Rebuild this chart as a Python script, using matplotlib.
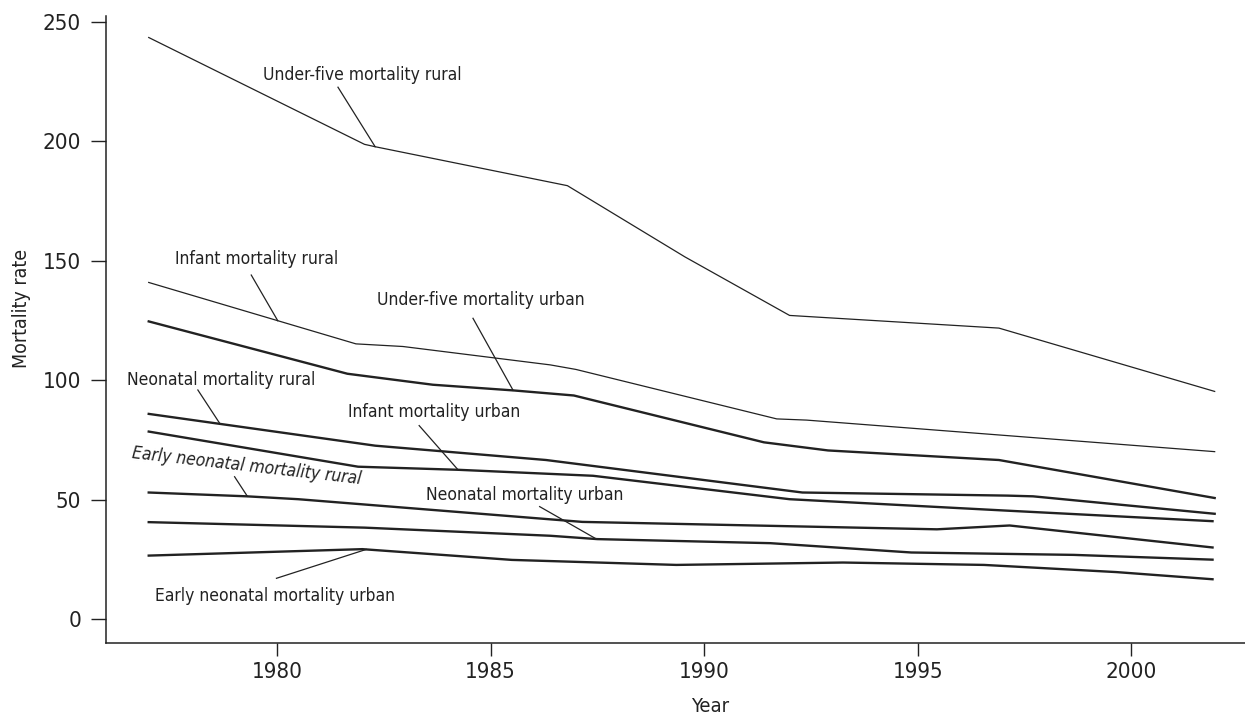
import numpy as np
import matplotlib
matplotlib.use('Agg')
import matplotlib.pyplot as plt
from matplotlib import font_manager as fm

# pick a narrow sans face if one is installed
narrow = None
for f in fm.fontManager.ttflist:
    if 'Narrow' in f.name or 'Condensed' in f.name or f.stretch == 'condensed':
        if f.style == 'normal' and f.weight in (400, 'normal', 'regular'):
            narrow = f
            break
if narrow is not None:
    plt.rcParams['font.family'] = [narrow.name, 'DejaVu Sans']
    plt.rcParams['font.stretch'] = narrow.stretch
else:
    plt.rcParams['font.family'] = ['Liberation Sans', 'DejaVu Sans']

# Mortality rates (per 1000) by year, rural and urban
years_u5_rural = [1977.0, 1982.05, 1982.3, 1986.8, 1989.55, 1992.0, 1996.9, 2001.95]
u5_rural = [243.5, 198.8, 197.8, 181.5, 151.7, 127.2, 121.9, 95.4]

years_inf_rural = [1977.0, 1981.85, 1982.95, 1986.4, 1987.0, 1991.7, 1992.4, 2001.95]
inf_rural = [141.0, 115.3, 114.2, 106.5, 104.6, 83.9, 83.4, 70.2]

years_u5_urban = [1977.0, 1981.65, 1983.65, 1985.55, 1986.95, 1991.4, 1992.9, 1996.9, 2001.95]
u5_urban = [124.7, 102.8, 98.2, 95.8, 93.7, 74.1, 70.7, 66.7, 50.8]

years_neo_rural = [1977.0, 1982.3, 1986.3, 1992.3, 1997.1, 1997.7, 2001.95]
neo_rural = [86.0, 72.7, 66.7, 53.1, 51.8, 51.5, 44.2]

years_inf_urban = [1977.0, 1981.9, 1984.25, 1987.4, 1992.0, 1997.1, 2001.9]
inf_urban = [78.6, 63.9, 62.6, 60.1, 50.3, 45.5, 41.1]

years_eneo_rural = [1977.0, 1979.3, 1980.5, 1987.15, 1995.45, 1997.15, 2001.9]
eneo_rural = [53.1, 51.5, 50.3, 40.8, 37.7, 39.3, 30.1]

years_neo_urban = [1977.0, 1982.05, 1986.4, 1987.5, 1991.55, 1994.85, 1998.65, 2001.9]
neo_urban = [40.7, 38.4, 35.0, 33.6, 31.9, 28.0, 27.0, 25.0]

years_eneo_urban = [1977.0, 1982.0, 1985.5, 1989.35, 1993.25, 1996.55, 1999.65, 2001.9]
eneo_urban = [26.7, 29.4, 24.9, 22.8, 23.8, 22.8, 19.8, 16.8]

names = ['Under-five mortality rural', 'Infant mortality rural',
         'Under-five mortality urban', 'Neonatal mortality rural',
         'Infant mortality urban', 'Early neonatal mortality rural',
         'Neonatal mortality urban', 'Early neonatal mortality urban']
series = [(years_u5_rural, u5_rural), (years_inf_rural, inf_rural),
          (years_u5_urban, u5_urban), (years_neo_rural, neo_rural),
          (years_inf_urban, inf_urban), (years_eneo_rural, eneo_rural),
          (years_neo_urban, neo_urban), (years_eneo_urban, eneo_urban)]
widths = [0.9, 0.9, 1.7, 1.7, 1.7, 1.7, 1.7, 1.7]

# label placement: text centre, start of leader, year where leader meets line
label_xy = [(1982.01, 228.0), (1979.52, 151.0), (1984.77, 133.5), (1978.70, 100.0),
            (1983.67, 86.6), (1979.30, 64.0), (1985.80, 52.0), (1979.96, 9.7)]
leader_start = [(1981.43, 222.7), (1979.40, 144.1), (1984.59, 126.0), (1978.15, 96.0),
                (1983.33, 81.1), (1979.01, 59.7), (1986.15, 47.2), (1979.99, 17.2)]
leader_year = [1982.3, 1980.02, 1985.53, 1978.67, 1984.24, 1979.31, 1987.48, 1982.09]
label_rot = [0, 0, 0, 0, 0, -6.5, 0, 0]

ink = '#222222'
fig = plt.figure(figsize=(12.45, 7.15), dpi=100)
ax = fig.add_axes([106/1245, 1 - 643.3/715, 1 - 106/1245, (643.3 - 16)/715])

for (yrs, vals), lw in zip(series, widths):
    ax.plot(yrs, vals, color=ink, lw=lw, solid_joinstyle='miter')

for i, name in enumerate(names):
    yrs, vals = series[i]
    tip = (leader_year[i], np.interp(leader_year[i], yrs, vals))
    ax.plot([leader_start[i][0], tip[0]], [leader_start[i][1], tip[1]],
            color=ink, lw=0.9)
    ax.text(label_xy[i][0], label_xy[i][1], name, ha='center', va='center',
            fontsize=12.5, color=ink, rotation=label_rot[i],
            style='italic' if label_rot[i] else 'normal')

ax.set_xlim(1976.0, 2002.66)
ax.set_ylim(-10, 252.5)
ax.set_xticks([1980, 1985, 1990, 1995, 2000])
ax.set_yticks([0, 50, 100, 150, 200, 250])

for side in ['top', 'right']:
    ax.spines[side].set_visible(False)
for side in ['left', 'bottom']:
    ax.spines[side].set_linewidth(1.1)
    ax.spines[side].set_color(ink)

ax.tick_params(axis='x', length=9, width=1.0, pad=4.5, labelsize=16, colors=ink)
ax.tick_params(axis='y', length=11, width=1.0, pad=7, labelsize=16, colors=ink)

ax.set_xlabel('Year', fontsize=14.5, color=ink)
ax.set_ylabel('Mortality rate', fontsize=14, color=ink)
ax.xaxis.set_label_coords(0.530, -0.085)
ax.yaxis.set_label_coords(-0.066, 0.534)

plt.savefig('out.png', dpi=100)
